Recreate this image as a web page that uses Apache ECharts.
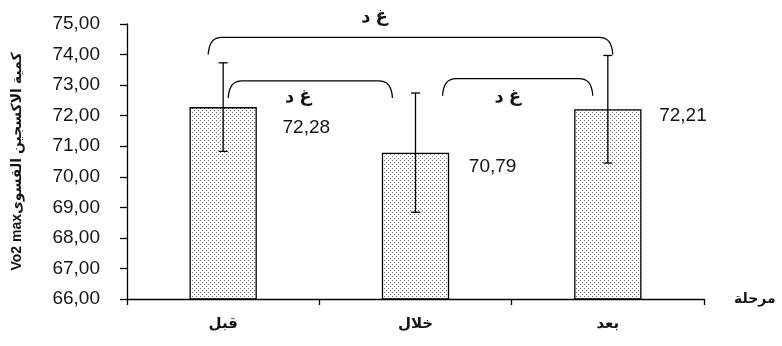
<!DOCTYPE html>
<html>
<head>
<meta charset="utf-8">
<script src="https://cdn.jsdelivr.net/npm/echarts@6/dist/echarts.min.js"></script>
<style>
  html, body { margin: 0; padding: 0; background: #fff; }
  #chart { width: 782px; height: 346px; }
</style>
</head>
<body>
<div id="chart"></div>
<script>
// Measurement stages and VO2 max results (mean and standard deviation)
const stages = ['قبل', 'خلال', 'بعد'];
const vo2Mean = [72.28, 70.79, 72.21];
const vo2Sd = [1.45, 1.95, 1.76];

// Pairwise comparisons: stage indices, bracket height (axis units) and verdict
const pairFrom = [0, 0, 1];
const pairTo = [2, 1, 2];
const pairLevel = [74.56, 73.14, 73.21];
const pairLabel = ['غ د', 'غ د', 'غ د'];

const yMin = 66, yMax = 75, yStep = 1;

const axisTitle = 'Vo2 maxكمية الاكسجين القسوى';
const stageTitle = 'مرحلة';

// ---- styling ----
const FONT = '"Liberation Sans", Arial, "DejaVu Sans", sans-serif';
const INK = '#141414';

// Bracket end insets (px from stage centre) and label nudges per comparison
const bracketEnds = [[-15, 5], [5, -23], [27, -15]];
const bracketLabelShift = [[-36, -20], [-12, 16], [-10, 18]];
const bracketDrop = 17;

// Value label placement relative to each bar's top-left corner
const valueLabelPos = [[93, 21], [87, 14], [85, 7]];

function dotTile() {
  const c = document.createElement('canvas');
  c.width = 4; c.height = 4;
  const g = c.getContext('2d');
  g.fillStyle = '#ffffff';
  g.fillRect(0, 0, 4, 4);
  g.fillStyle = '#6c6c6c';
  g.fillRect(0, 0, 1, 1);
  g.fillRect(2, 2, 1, 1);
  return c;
}

const fmt = v => v.toFixed(2).replace('.', ',');

const chart = echarts.init(document.getElementById('chart'), null, { renderer: 'canvas' });

const option = {
  animation: false,
  backgroundColor: '#ffffff',
  grid: { left: 127, right: 78, top: 24, bottom: 47, containLabel: false, outerBoundsMode: 'none' },
  xAxis: {
    type: 'category',
    data: stages,
    name: stageTitle,
    nameLocation: 'end',
    nameGap: 30,
    nameTextStyle: { fontFamily: FONT, fontWeight: 'bold', fontSize: 14, color: INK, verticalAlign: 'middle', padding: [0, 0, 22, 0] },
    axisLine: { lineStyle: { color: '#000', width: 1.3 } },
    axisTick: { show: true, length: 6, lineStyle: { color: '#000', width: 1.3 } },
    axisLabel: { fontFamily: FONT, fontWeight: 'bold', fontSize: 15, color: INK, margin: 17 },
    splitLine: { show: false }
  },
  yAxis: {
    type: 'value',
    min: yMin, max: yMax, interval: yStep,
    name: axisTitle,
    nameLocation: 'middle',
    nameRotate: 90,
    nameGap: 103,
    nameTextStyle: { fontFamily: FONT, fontWeight: 'bold', fontSize: 14, color: INK },
    axisLine: { show: true, lineStyle: { color: '#000', width: 1.3 } },
    axisTick: { show: true, length: 7, lineStyle: { color: '#000', width: 1.3 } },
    axisLabel: { fontFamily: FONT, fontSize: 19, color: INK, margin: 27, formatter: v => fmt(v) },
    splitLine: { show: false }
  },
  series: [
    {
      type: 'bar',
      barWidth: '35%',
      data: vo2Mean.map((v, i) => ({
        value: v,
        label: { position: valueLabelPos[i] }
      })),
      itemStyle: {
        color: { image: dotTile(), repeat: 'repeat' },
        borderColor: '#000',
        borderWidth: 1.3
      },
      label: {
        show: true,
        formatter: p => fmt(p.value),
        fontFamily: FONT,
        fontSize: 19,
        color: INK,
        align: 'left',
        verticalAlign: 'middle'
      },
      z: 2
    },
    {
      // standard deviation whiskers
      type: 'custom',
      data: vo2Mean.map((m, i) => [i, m, vo2Sd[i]]),
      encode: { x: 0, y: 1 },
      z: 5,
      renderItem(params, api) {
        const i = api.value(0), m = api.value(1), s = api.value(2);
        const top = api.coord([i, m + s]);
        const bot = api.coord([i, m - s]);
        const cap = 4.5;
        const st = { stroke: '#000', lineWidth: 1.3 };
        return {
          type: 'group',
          children: [
            { type: 'line', shape: { x1: top[0], y1: top[1], x2: bot[0], y2: bot[1] }, style: st },
            { type: 'line', shape: { x1: top[0] - cap, y1: top[1], x2: top[0] + cap, y2: top[1] }, style: st },
            { type: 'line', shape: { x1: bot[0] - cap, y1: bot[1], x2: bot[0] + cap, y2: bot[1] }, style: st }
          ]
        };
      }
    },
    {
      // comparison brackets with their verdicts
      type: 'custom',
      data: pairFrom.map((f, k) => [f, pairTo[k], pairLevel[k], k]),
      encode: { x: [0, 1], y: 2 },
      z: 6,
      clip: false,
      renderItem(params, api) {
        const f = api.value(0), t = api.value(1), lv = api.value(2), k = api.value(3);
        const a = api.coord([f, lv]);
        const b = api.coord([t, lv]);
        const x0 = a[0] + bracketEnds[k][0];
        const x1 = b[0] + bracketEnds[k][1];
        const yt = a[1];
        const yd = yt + bracketDrop;
        const r = 14;
        const path =
          'M' + x0 + ' ' + yd +
          ' C' + (x0 + 1) + ' ' + (yt + 5) + ' ' + (x0 + 5) + ' ' + yt + ' ' + (x0 + r) + ' ' + yt +
          ' L' + (x1 - r) + ' ' + yt +
          ' C' + (x1 - 5) + ' ' + yt + ' ' + (x1 - 1) + ' ' + (yt + 5) + ' ' + x1 + ' ' + yd;
        return {
          type: 'group',
          children: [
            { type: 'path', shape: { pathData: path }, style: { stroke: '#000', lineWidth: 1.3, fill: null } },
            {
              type: 'text',
              style: {
                text: pairLabel[k],
                x: (x0 + x1) / 2 + bracketLabelShift[k][0],
                y: yt + bracketLabelShift[k][1],
                align: 'center',
                verticalAlign: 'middle',
                font: 'bold 18px ' + FONT,
                fill: INK
              }
            }
          ]
        };
      }
    }
  ]
};

chart.setOption(option);
</script>
</body>
</html>
